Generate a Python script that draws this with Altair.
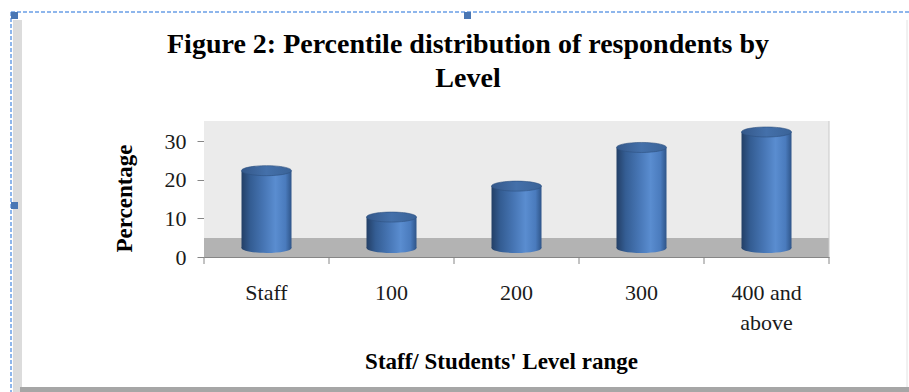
import altair as alt
import pandas as pd

# ---- data ----
levels = ["Staff", "100", "200", "300", "400 and above"]
percent = [20, 8, 16, 26, 30]
y_ticks = [0, 10, 20, 30]
title_lines = ["Figure 2: Percentile distribution of respondents by", "Level"]
x_title = "Staff/ Students' Level range"
y_title = "Percentage"

df = pd.DataFrame({"level": levels, "pct": percent})
one = pd.DataFrame({"k": [0]})

# ---- layout ----
OX, OY = 204, 141          # plot origin in page pixels
W, H = 625, 116            # plot area
BAND = W / len(levels)
BASE = 2.33                # depth offset of bar bottoms (value units)
SERIF = "Liberation Serif"
AX = "#868686"
TXT = "#1a1a1a"

xscale = alt.Scale(domain=levels, paddingInner=0, paddingOuter=0)
yscale = alt.Scale(domain=[0, 30], nice=False, zero=True)

xaxis = alt.Axis(
    title=x_title, labelAngle=0, ticks=False, tickSize=0,
    domainColor=AX, labelFont=SERIF, labelFontSize=22, labelColor=TXT,
    labelPadding=25, labelLineHeight=30,
    labelExpr="datum.label == '400 and above' ? ['400 and', 'above'] : datum.label",
    titleFont=SERIF, titleFontSize=23, titleFontWeight="bold", titleColor="#000000",
    titleX=297, titleY=111, titleBaseline="alphabetic", titleAlign="center",
)
yaxis = alt.Axis(
    values=y_ticks, grid=False, domainColor=AX, tickColor=AX, tickSize=7,
    labelFont=SERIF, labelFontSize=22, labelColor=TXT, labelPadding=11,
    title=y_title, titleFont=SERIF, titleFontSize=23, titleFontWeight="bold",
    titleColor="#000000", titleX=-80, titleY=57, titleAngle=-90,
    titleAlign="center", titleBaseline="middle",
)


def X():
    return alt.X("level:N", scale=xscale, sort=levels, axis=xaxis)


def Y(field):
    return alt.Y(f"{field}:Q", scale=yscale, axis=yaxis)


ellipse = ("M -1 0 C -1 -0.1105 -0.5523 -0.2 0 -0.2 C 0.5523 -0.2 1 -0.1105 1 0 "
           "C 1 0.1105 0.5523 0.2 0 0.2 C -0.5523 0.2 -1 0.1105 -1 0 Z")

body_grad = alt.Gradient(
    gradient="linear", x1=0, x2=1, y1=0, y2=0,
    stops=[
        alt.GradientStop(offset=0.0, color="#233f66"),
        alt.GradientStop(offset=0.18, color="#345d93"),
        alt.GradientStop(offset=0.45, color="#4776b5"),
        alt.GradientStop(offset=0.68, color="#5a8dd0"),
        alt.GradientStop(offset=0.88, color="#4a7bbd"),
        alt.GradientStop(offset=1.0, color="#2f5589"),
    ],
)
top_grad = alt.Gradient(
    gradient="linear", x1=0, x2=1, y1=0, y2=0,
    stops=[
        alt.GradientStop(offset=0.0, color="#34588a"),
        alt.GradientStop(offset=0.5, color="#4470aa"),
        alt.GradientStop(offset=1.0, color="#3a6398"),
    ],
)

base = alt.Chart(df).transform_calculate(
    top=f"datum.pct + {BASE}", base=f"{BASE}"
)

# background wall and floor
wall = alt.Chart(one).mark_rect(color="#ebebeb").encode(
    x=alt.value(0), x2=alt.value(W), y=alt.value(-20), y2=alt.value(97)
)
floor = alt.Chart(one).mark_rect(color="#b3b3b3").encode(
    x=alt.value(0), x2=alt.value(W), y=alt.value(97), y2=alt.value(H)
)

# x tick marks at band boundaries
ticks = alt.Chart(df).mark_rule(color=AX, xOffset=-BAND / 2).encode(
    x=X(), y=alt.value(H), y2=alt.value(H + 7),
)
tick_end = alt.Chart(one).mark_rule(color=AX).encode(
    x=alt.value(W), y=alt.value(H), y2=alt.value(H + 7)
)
right_edge = alt.Chart(one).mark_rule(color="#c8c8c8").encode(
    x=alt.value(W), y=alt.value(-20), y2=alt.value(H)
)

bottom_ell = base.mark_point(
    shape=ellipse, size=2500, filled=True, fill=body_grad, opacity=1, strokeWidth=0
).encode(x=X(), y=Y("base"))

bodies = base.mark_bar(size=50, fill=body_grad).encode(
    x=X(), y=Y("top"), y2="base:Q",
)

top_ell = base.mark_point(
    shape=ellipse, size=2500, filled=True, fill=top_grad, opacity=1,
    stroke="#2e5080", strokeWidth=0.6,
).encode(x=X(), y=Y("top"))

title = alt.Chart(one).mark_text(
    text=title_lines, font=SERIF, fontSize=28, fontWeight="bold", color="#000000",
    align="center", baseline="alphabetic", lineHeight=34,
).encode(x=alt.value(468 - OX), y=alt.value(53 - OY))

# page decorations (document frame)
def px(v):
    return v - OX

def py(v):
    return v - OY

deco = []
deco.append(alt.Chart(one).mark_rect(color="#dcdcdc").encode(
    x=alt.value(px(13)), x2=alt.value(px(22)), y=alt.value(py(20)), y2=alt.value(py(392))))
deco.append(alt.Chart(one).mark_rect(color="#a6a6a6").encode(
    x=alt.value(px(20)), x2=alt.value(px(909)), y=alt.value(py(387)), y2=alt.value(py(392))))
deco.append(alt.Chart(one).mark_rule(color="#e2e2e2").encode(
    x=alt.value(px(907)), y=alt.value(py(20)), y2=alt.value(py(387))))
deco.append(alt.Chart(one).mark_rule(color="#6a9ee6", strokeDash=[4, 2], strokeWidth=1.5).encode(
    x=alt.value(px(11)), x2=alt.value(px(909)), y=alt.value(py(12))))
deco.append(alt.Chart(one).mark_rule(color="#6a9ee6", strokeDash=[4, 2], strokeWidth=1.5).encode(
    x=alt.value(px(11)), y=alt.value(py(12)), y2=alt.value(py(392))))
for hx, hy in [(11, 12), (464, 12), (11, 202)]:
    deco.append(alt.Chart(one).mark_rect(color="#4a77b4").encode(
        x=alt.value(px(hx)), x2=alt.value(px(hx + 7)),
        y=alt.value(py(hy)), y2=alt.value(py(hy + 7))))

chart = alt.layer(
    wall, floor, right_edge, ticks, tick_end, bottom_ell, bodies, top_ell, title, *deco
).properties(
    width=W, height=H,
    autosize=alt.AutoSizeParams(type="none"),
    padding={"left": OX, "top": OY, "right": 909 - OX - W, "bottom": 392 - OY - H},
    background="white",
).configure_view(stroke=None)

chart.save("out.html", embed_options={"renderer": "svg", "actions": False})
